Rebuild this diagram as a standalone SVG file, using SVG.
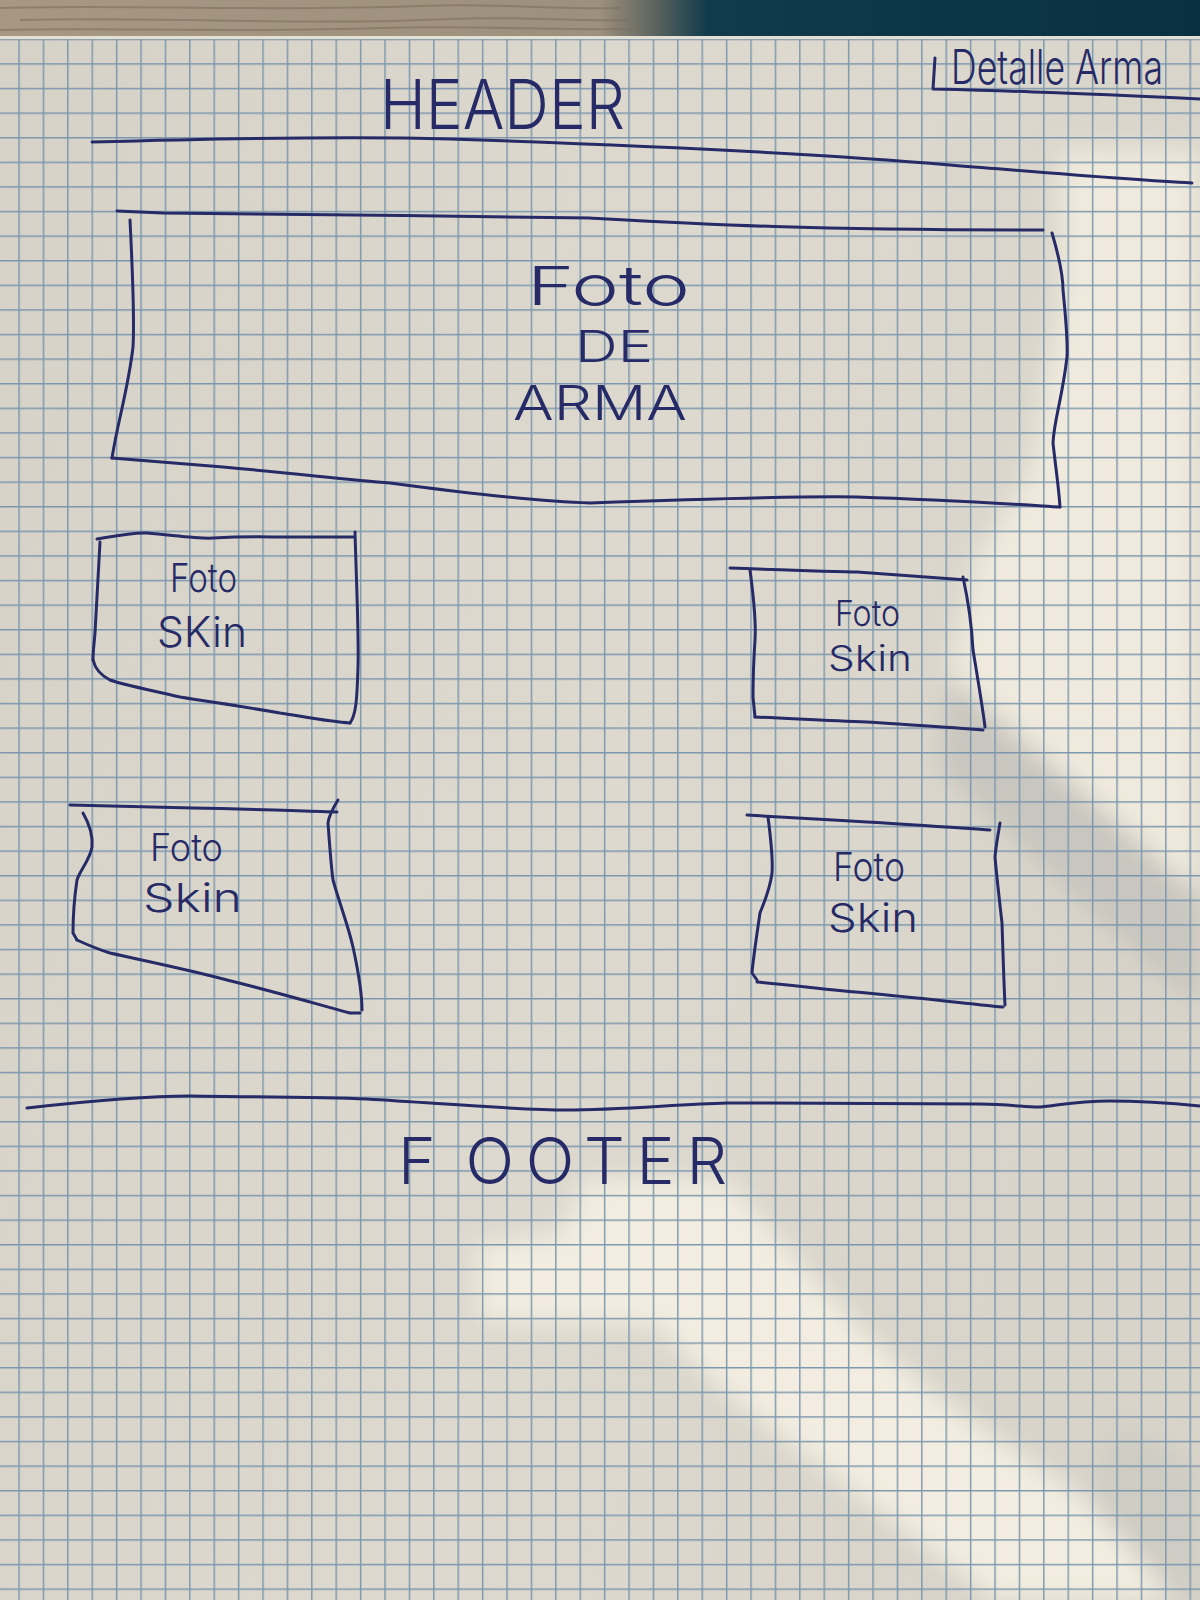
<svg xmlns="http://www.w3.org/2000/svg" width="1200" height="1600" viewBox="0 0 1200 1600">
  <defs>
    <style>
      .ink { fill: none; stroke: #262a66; stroke-width: 3; stroke-linecap: round; stroke-linejoin: round; }
      .hand { fill: #262a66; font-family: "Inter", "Open Sans", "DejaVu Sans", sans-serif; font-weight: 300; }
    </style>
    <linearGradient id="desk" x1="0" y1="0" x2="1" y2="0">
      <stop offset="0" stop-color="#a69883"/>
      <stop offset="0.5" stop-color="#9d907c"/>
      <stop offset="0.545" stop-color="#5d6460"/>
      <stop offset="0.59" stop-color="#0f3b4c"/>
      <stop offset="1" stop-color="#093041"/>
    </linearGradient>
    <linearGradient id="paperTone" x1="0" y1="0" x2="1" y2="0.3">
      <stop offset="0" stop-color="#d6d2c8"/>
      <stop offset="0.6" stop-color="#ddd9ce"/>
      <stop offset="1" stop-color="#d8d4c9"/>
    </linearGradient>
    <filter id="soft" x="-20%" y="-20%" width="140%" height="140%">
      <feGaussianBlur stdDeviation="12"/>
    </filter>
    <pattern id="grid" patternUnits="userSpaceOnUse" x="18.3" y="14" width="24.4" height="24.6">
      <path d="M0.7 0 V24.6 M0 0.7 H24.4" stroke="#7190aa" stroke-width="1.5" fill="none"/>
    </pattern>
  </defs>

  <!-- desk behind the sheet -->
  <rect x="0" y="0" width="1200" height="40" fill="url(#desk)"/>
  <g stroke="#7e705e" stroke-width="2" opacity="0.6" fill="none">
    <path d="M0 8 C120 4 260 12 420 6 C500 3 560 10 620 8"/>
    <path d="M20 20 C150 16 300 26 450 19 C520 16 580 22 630 20"/>
    <path d="M0 30 C100 27 240 33 380 28 C480 25 560 31 640 29"/>
  </g>

  <!-- sheet of squared paper -->
  <rect x="0" y="37" width="1200" height="1563" fill="url(#paperTone)"/>
  <rect x="0" y="36" width="1200" height="3" fill="#e4dfd3"/>

  <!-- light and shadow falling on the sheet -->
  <g filter="url(#soft)">
    <polygon points="1060,150 1200,150 1200,893 950,673 975,560 1030,470 1060,300" fill="#efeadd"/>
    <polygon points="950,680 1200,900 1200,1010 1110,930 940,770" fill="#c9c6bf"/>
    <polygon points="585,1180 727,1180 803,1267 865,1333 941,1400 1087,1500 1175,1600 995,1600 865,1500 735,1400 655,1325 480,1320 476,1245 560,1235" fill="#f2ede0"/>
    <polygon points="1087,1500 1175,1600 1200,1600 1200,1470 1120,1420" fill="#cfccc4"/>
  </g>

  <!-- ruled squares -->
  <rect x="0" y="39" width="1200" height="1561" fill="url(#grid)" opacity="0.9"/>

  <!-- page title in the corner -->
  <g id="page-title">
    <path class="ink" d="M935,58 L933,89 C980,90 1010,91 1033,92 C1100,94 1160,97 1200,99"/>
    <text class="hand" transform="translate(951,84) scale(1,1.2)" x="0" y="0" font-size="40" textLength="212" lengthAdjust="spacingAndGlyphs">Detalle Arma</text>
  </g>

  <!-- header band -->
  <g id="header">
    <text class="hand" x="380" y="129" font-size="68" textLength="245" lengthAdjust="spacingAndGlyphs">HEADER</text>
  </g>

  <!-- main weapon picture -->
  <g id="weapon-photo">
    <path class="ink" d="M117,211 L163,213 C300,214 450,216 590,218 C700,224 800,230 1043,230"/>
    <path class="ink" d="M130,220 C133,280 134,330 133,347 C128,390 118,420 112,458"/>
    <path class="ink" d="M112,458 C160,462 200,465 223,467 C300,474 350,480 390,483 C480,495 550,502 590,503 C700,499 800,496 857,497 C950,500 1010,504 1060,507"/>
    <path class="ink" d="M1052,233 C1060,260 1063,280 1063,290 C1066,320 1068,340 1067,357 C1062,400 1054,420 1053,443 C1056,470 1059,490 1060,507"/>
    <text class="hand" x="527" y="305" font-size="54" textLength="163" lengthAdjust="spacingAndGlyphs">Foto</text>
    <text class="hand" x="575" y="362" font-size="44" textLength="78" lengthAdjust="spacingAndGlyphs">DE</text>
    <text class="hand" x="513" y="420" font-size="48" textLength="174" lengthAdjust="spacingAndGlyphs">ARMA</text>
  </g>

  <!-- skin thumbnails -->
  <g id="skin-1">
    <path class="ink" d="M97,539 C120,535 135,532 147,533 C180,536 200,539 213,538 C250,536 270,537 280,537 C320,537 340,537 353,537"/>
    <path class="ink" d="M355,532 C357,600 359,640 358,667 C357,700 356,715 350,723"/>
    <path class="ink" d="M350,723 C330,722 300,716 280,713 C240,706 210,702 180,697 C150,690 120,684 110,680 C100,675 95,668 93,660"/>
    <path class="ink" d="M100,542 C98,580 96,610 95,633 C94,645 93,652 93,660"/>
    <text class="hand" x="170" y="592" font-size="40" textLength="67" lengthAdjust="spacingAndGlyphs">Foto</text>
    <text class="hand" x="157" y="647" font-size="42" textLength="90" lengthAdjust="spacingAndGlyphs">SKin</text>
  </g>

  <g id="skin-2">
    <path class="ink" d="M730,568 C780,570 820,571 857,572 C900,575 940,578 967,580"/>
    <path class="ink" d="M750,570 C754,600 756,625 755,640 C753,670 753,690 753,697 L755,717"/>
    <path class="ink" d="M755,717 C800,719 830,721 867,722 C910,725 950,727 983,730"/>
    <path class="ink" d="M963,577 C968,600 972,630 973,650 C978,680 983,710 985,727"/>
    <text class="hand" x="835" y="626" font-size="36" textLength="65" lengthAdjust="spacingAndGlyphs">Foto</text>
    <text class="hand" x="828" y="671" font-size="36" textLength="84" lengthAdjust="spacingAndGlyphs">Skin</text>
  </g>

  <g id="skin-3">
    <path class="ink" d="M70,805 C120,806 160,807 193,808 C250,809 300,811 337,812"/>
    <path class="ink" d="M83,813 C90,825 93,835 92,847 C90,860 80,870 77,880 C74,900 73,920 73,933 L77,940"/>
    <path class="ink" d="M77,940 C90,946 100,950 110,953 C150,962 190,970 227,980 C280,993 320,1005 350,1013 L360,1013"/>
    <path class="ink" d="M338,800 C333,808 329,815 328,823 C330,850 331,865 333,880 C340,905 348,925 353,947 C358,970 362,990 362,1010"/>
    <text class="hand" x="150" y="861" font-size="38" textLength="73" lengthAdjust="spacingAndGlyphs">Foto</text>
    <text class="hand" x="143" y="912" font-size="40" textLength="99" lengthAdjust="spacingAndGlyphs">Skin</text>
  </g>

  <g id="skin-4">
    <path class="ink" d="M747,815 C800,818 830,820 867,822 C920,825 960,828 990,830"/>
    <path class="ink" d="M768,817 C771,840 773,860 772,873 C770,890 763,905 760,913 C756,940 753,960 752,973 L757,980"/>
    <path class="ink" d="M757,982 C800,986 830,990 867,993 C920,998 970,1004 1003,1007"/>
    <path class="ink" d="M1000,823 C998,835 996,845 995,857 C997,880 1000,905 1002,923 C1003,955 1004,985 1005,1005"/>
    <text class="hand" x="833" y="881" font-size="40" textLength="72" lengthAdjust="spacingAndGlyphs">Foto</text>
    <text class="hand" x="828" y="932" font-size="40" textLength="90" lengthAdjust="spacingAndGlyphs">Skin</text>
  </g>

  <!-- footer band -->
  <g id="footer">
    <text class="hand" x="398" y="1184" font-size="64" textLength="329" lengthAdjust="spacing">F<tspan dx="18">OOTER</tspan></text>
  </g>

  <!-- dividing rules -->
  <g id="connectors">
    <path class="ink" d="M92,142 C200,139 350,136 450,139 C600,144 800,152 950,165 C1050,173 1130,180 1192,183"/>
    <path class="ink" d="M27,1108 C80,1102 140,1096 191,1096 C250,1097 320,1097 367,1099 C450,1104 520,1110 566,1110 C620,1110 680,1104 727,1103 C820,1103 920,1103 980,1104 C1010,1104 1030,1108 1041,1107 C1060,1105 1080,1101 1109,1101 C1150,1101 1180,1104 1200,1106"/>
  </g>
</svg>
